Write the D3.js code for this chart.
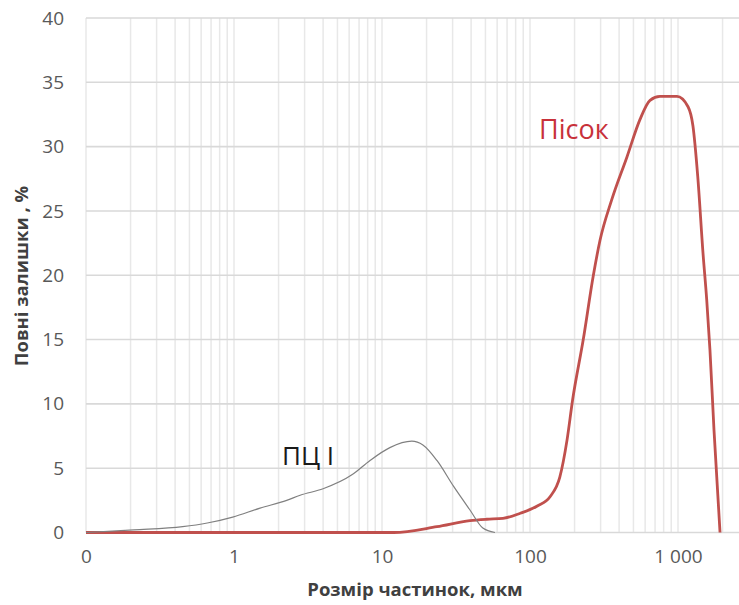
<!DOCTYPE html>
<html>
<head>
<meta charset="utf-8">
<script src="https://cdn.jsdelivr.net/npm/d3@7"></script>
<style>
  body { margin: 0; background: #fff; }
  text { font-family: "Open Sans", "Noto Sans", sans-serif; }
</style>
</head>
<body>
<div id="chart"></div>
<script>
// particle size, mkm
var pcSize = [0.1, 0.21, 0.45, 0.66, 0.98, 1.5, 2.27, 2.8, 4.0, 6.3, 8.3, 11.3, 15.9, 18.9, 23.5, 30.4, 39.3, 48, 58];
var pcVal  = [0, 0.2, 0.45, 0.74, 1.2, 1.9, 2.5, 2.9, 3.4, 4.5, 5.6, 6.6, 7.1, 6.8, 5.6, 3.6, 1.75, 0.35, 0];

var sandSize = [0.1, 12, 23.5, 39.3, 51, 65.7, 86, 112, 137, 159, 178, 194, 229, 268, 297, 355, 452, 553, 647, 755, 985, 1169, 1262, 1359, 1476, 1563, 1644, 1750, 1923];
var sandVal  = [0, 0, 0.45, 0.92, 1.03, 1.1, 1.5, 2.06, 2.8, 4.3, 7.2, 10.3, 15.0, 20.0, 22.7, 25.8, 29.2, 32.1, 33.6, 33.9, 33.9, 33.1, 31.6, 27.7, 21.7, 18.1, 14.2, 8.0, 0];

var xTicks = [0.1, 1, 10, 100, 1000];
var xTickLabels = ["0", "1", "10", "100", "1 000"];
var yTicks = [0, 5, 10, 15, 20, 25, 30, 35, 40];

var outerWidth = 739, outerHeight = 605;
var plotLeft = 86, plotTop = 18, plotBottom = 532.5, decade = 148;

var svg = d3.select("#chart").append("svg")
    .attr("width", outerWidth)
    .attr("height", outerHeight);

//////// SCALES ////////
var xScale = d3.scaleLog()
    .domain([0.1, 3000])
    .range([plotLeft, plotLeft + decade * Math.log10(30000)]);

var yScale = d3.scaleLinear()
    .domain([0, 40])
    .range([plotBottom, plotTop]);

//////// GRID ////////
var minor = [];
[0.1, 1, 10, 100, 1000].forEach(function(d) {
    for (var k = 1; k < 10; k++) if (d * k <= 3000) minor.push(d * k);
});

svg.append("g").selectAll("line")
    .data(minor)
    .enter().append("line")
        .attr("x1", function(d) { return xScale(d); })
        .attr("x2", function(d) { return xScale(d); })
        .attr("y1", plotTop)
        .attr("y2", plotBottom)
        .attr("stroke", "#e8e8e8")
        .attr("stroke-width", 1.5);

svg.append("g").selectAll("line")
    .data(yTicks)
    .enter().append("line")
        .attr("x1", plotLeft)
        .attr("x2", outerWidth)
        .attr("y1", function(d) { return yScale(d); })
        .attr("y2", function(d) { return yScale(d); })
        .attr("stroke", "#d9d9d9")
        .attr("stroke-width", 1.6);

//////// AXES ////////
var yAxis = svg.append("g")
    .attr("transform", "translate(" + plotLeft + ",0)")
    .call(d3.axisLeft(yScale).tickValues(yTicks).tickSize(0).tickPadding(22));
yAxis.select(".domain").remove();
yAxis.selectAll("text")
    .attr("font-family", "Open Sans, sans-serif")
    .attr("font-size", 19)
    .attr("fill", "#595959");

var xAxis = svg.append("g")
    .attr("transform", "translate(0," + plotBottom + ")")
    .call(d3.axisBottom(xScale).tickValues(xTicks).tickSize(0).tickPadding(17)
        .tickFormat(function(d, i) { return xTickLabels[i]; }));
xAxis.select(".domain").remove();
xAxis.selectAll("text")
    .attr("font-family", "Open Sans, sans-serif")
    .attr("font-size", 19)
    .attr("fill", "#595959");

//////// TITLES ////////
svg.append("text")
    .attr("x", 415)
    .attr("y", 596)
    .attr("text-anchor", "middle")
    .attr("font-size", 18.5)
    .attr("font-weight", "bold")
    .attr("fill", "#404040")
    .text("Розмір частинок, мкм");

svg.append("text")
    .attr("transform", "translate(28,276) rotate(-90)")
    .attr("text-anchor", "middle")
    .attr("font-size", 18.5)
    .attr("font-weight", "bold")
    .attr("fill", "#404040")
    .text("Повні залишки , %");

//////// LINES ////////
var line = d3.line()
    .x(function(d) { return xScale(d[0]); })
    .y(function(d) { return yScale(d[1]); })
    .curve(d3.curveMonotoneX);

svg.append("path")
    .datum(d3.zip(sandSize, sandVal))
    .attr("fill", "none")
    .attr("stroke", "#c0504d")
    .attr("stroke-width", 2.8)
    .attr("d", line);

svg.append("path")
    .datum(d3.zip(pcSize, pcVal))
    .attr("fill", "none")
    .attr("stroke", "#808080")
    .attr("stroke-width", 1.2)
    .attr("d", line);

//////// LABELS ////////
svg.append("text")
    .attr("x", 282)
    .attr("y", 465)
    .attr("font-family", "Liberation Sans, Arial, sans-serif")
    .attr("font-size", 26)
    .attr("fill", "#1a1a1a")
    .text("ПЦ І");

svg.append("text")
    .attr("x", 539)
    .attr("y", 139)
    .attr("font-family", "Liberation Sans, Arial, sans-serif")
    .attr("font-size", 27)
    .attr("fill", "#c8313a")
    .text("Пісок");
</script>
</body>
</html>
